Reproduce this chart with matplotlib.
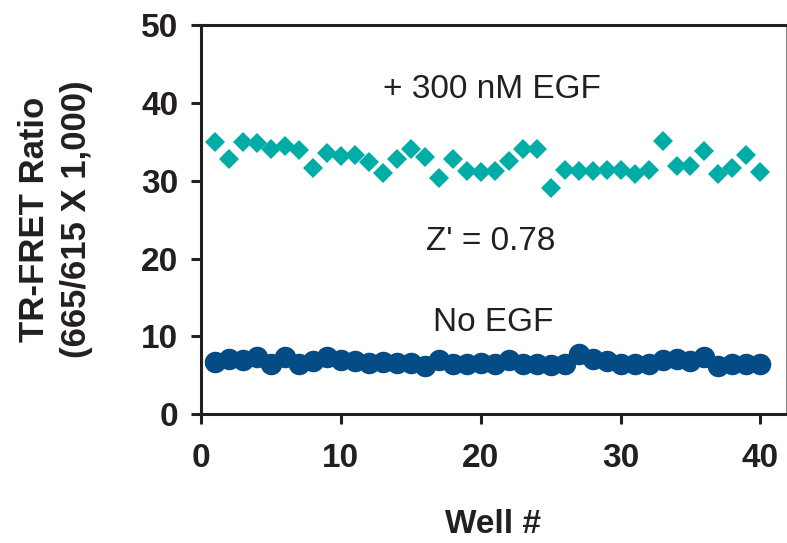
import matplotlib
matplotlib.use("Agg")
import matplotlib.pyplot as plt

plt.rcParams['font.family'] = ['Liberation Sans', 'DejaVu Sans']

wells = list(range(1, 41))
egf_300nM = [35.0, 32.8, 34.95, 34.9, 34.1, 34.4, 33.9, 31.6, 33.6, 33.2,
             33.3, 32.4, 31.0, 32.8, 34.1, 33.1, 30.3, 32.8, 31.2, 31.1,
             31.2, 32.5, 34.1, 34.1, 29.1, 31.4, 31.2, 31.3, 31.4, 31.4,
             30.8, 31.4, 35.1, 31.9, 31.9, 33.8, 30.8, 31.6, 33.3, 31.1]
no_egf = [6.7, 7.1, 7.0, 7.4, 6.5, 7.3, 6.5, 6.8, 7.3, 7.0,
          6.8, 6.6, 6.7, 6.6, 6.6, 6.2, 7.0, 6.5, 6.5, 6.6,
          6.5, 7.0, 6.5, 6.4, 6.3, 6.4, 7.7, 7.05, 6.8, 6.5,
          6.4, 6.5, 7.0, 7.1, 6.8, 7.3, 6.2, 6.5, 6.5, 6.5]
x_ticks = [0, 10, 20, 30, 40]
y_ticks = [0, 10, 20, 30, 40, 50]

dark = '#231f20'
teal = '#00aca6'
blue = '#044c86'

fig = plt.figure(figsize=(7.87, 5.43), dpi=100)
ax = fig.add_axes([0.255, 0.237, 0.7433, 0.717])

ax.plot(wells, egf_300nM, linestyle='none', marker='D', ms=10.5,
        color=teal, markeredgewidth=0)
ax.plot(wells, no_egf, linestyle='none', marker='o', ms=15.5,
        color=blue, markeredgewidth=0)

ax.set_xlim(0, 41.8)
ax.set_ylim(0, 50)
ax.set_xticks(x_ticks)
ax.set_yticks(y_ticks)

for s in ['left', 'bottom', 'top']:
    ax.spines[s].set_linewidth(2.2)
    ax.spines[s].set_color(dark)
ax.spines['right'].set_linewidth(0.8)
ax.spines['right'].set_color('#888888')
ax.spines['left'].set_zorder(5)

ax.tick_params(axis='both', direction='out', length=7, width=2.2,
               color=dark, labelsize=24, labelcolor=dark)
ax.tick_params(axis='y', pad=9)
ax.tick_params(axis='x', pad=14)
ax.tick_params(top=False, right=False)
for lbl in ax.get_xticklabels() + ax.get_yticklabels():
    lbl.set_fontweight('bold')

ax.set_xlabel('Well #', fontsize=24, fontweight='bold', color=dark, labelpad=25)
ax.set_ylabel('TR-FRET Ratio\n(665/615 X 1,000)', fontsize=25,
              fontweight='bold', color=dark, labelpad=35, linespacing=1.32)

ax.text(20.8, 41.7, '+ 300 nM EGF', fontsize=24, color=dark,
        ha='center', va='center')
ax.text(20.7, 22.2, "Z' = 0.78", fontsize=24, color=dark,
        ha='center', va='center')
ax.text(20.9, 11.8, 'No EGF', fontsize=24, color=dark,
        ha='center', va='center')

fig.savefig('out.png', dpi=100)
